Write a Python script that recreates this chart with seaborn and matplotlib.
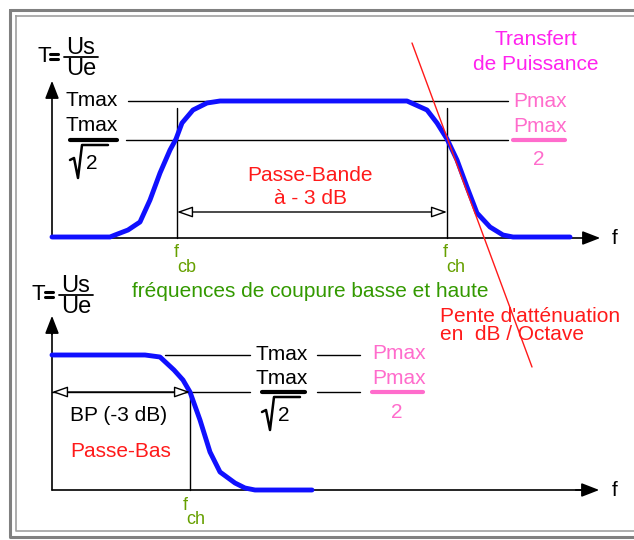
import numpy as np
import pandas as pd
import seaborn as sns
import matplotlib.pyplot as plt

# Kurven (Pixelkoordinaten des Schemas)
bande_x = [52, 110, 115, 128, 140, 150, 160, 170, 176, 182, 193, 207, 220,
           407, 427, 437, 447, 457, 467, 477, 490, 503, 513, 570]
bande_y = [237, 237, 235, 230, 222, 200, 173, 150, 139, 123, 110, 103, 101,
           101, 110, 123, 139, 160, 187, 213, 227, 235, 237, 237]
bas_x = [52, 145, 160, 174, 183, 190, 200, 210, 220, 235, 245, 255, 312]
bas_y = [355, 355, 357, 370, 380, 392, 420, 452, 472, 483, 488, 490, 490]

# Referenzpegel
y_tmax_haut, y_tmax2_haut = 101, 140
y_tmax_bas, y_tmax2_bas = 355, 392
x_fcb, x_fch, x_fch_bas = 177, 447, 190

# Pente (rote Gerade)
pente_x = [412, 532]
pente_y = [43, 367]

C_VERT = "#339900"
C_OLIVE = "#66a000"
C_ROUGE = "#ff1a1a"
C_MAG = "#ff22ee"
C_ROSE = "#ff6ccc"
C_BLEU = "#1010ff"
FONT = ["Liberation Sans", "DejaVu Sans"]

sns.set_theme(style="white")
plt.rcParams["font.family"] = FONT

fig = plt.figure(figsize=(6.34, 5.40), dpi=100)
ax = fig.add_axes([0, 0, 1, 1])

k = "black"

# Kurven mit seaborn
df_bande = pd.DataFrame({"f": bande_x, "T": bande_y})
df_bas = pd.DataFrame({"f": bas_x, "T": bas_y})
sns.lineplot(data=df_bande, x="f", y="T", ax=ax, color=C_BLEU, lw=3.5, sort=False, zorder=3)
sns.lineplot(data=df_bas, x="f", y="T", ax=ax, color=C_BLEU, lw=3.5, sort=False, zorder=3)
ax.set_xlim(0, 634)
ax.set_ylim(540, 0)
ax.axis("off")

# Rahmen (aussen dunkel, innen hell)
for off, bot, c, lw in [(10, 537, "#808080", 2.2), (16, 531, "#a0a0a0", 1.2)]:
    ax.plot([off, 660, 660, off, off], [off, off, bot, bot, off], color=c, lw=lw)

# Achsen oben
ax.plot([52, 52], [238, 95], color=k, lw=1.2)
ax.plot([52, 590], [238, 238], color=k, lw=1.2)
# Achsen unten
ax.plot([52, 52], [490, 330], color=k, lw=1.2)
ax.plot([52, 585], [490, 490], color=k, lw=1.2)

arr = dict(arrowstyle="-|>,head_length=0.9,head_width=0.35", color=k, lw=1.2)
ax.annotate("", xy=(603, 238), xytext=(580, 238), arrowprops=arr)
ax.annotate("", xy=(602, 490), xytext=(573, 490), arrowprops=arr)
ax.annotate("", xy=(52, 78), xytext=(52, 100), arrowprops=arr)
ax.annotate("", xy=(52, 313), xytext=(52, 337), arrowprops=arr)

# Pegellinien oben
ax.plot([128, 508], [y_tmax_haut] * 2, color=k, lw=1)
ax.plot([126, 508], [y_tmax2_haut] * 2, color=k, lw=1)
ax.plot([x_fcb, x_fcb], [108, 238], color=k, lw=1)
ax.plot([x_fch, x_fch], [108, 238], color=k, lw=1)
# Pegellinien unten
ax.plot([165, 250], [y_tmax_bas] * 2, color=k, lw=1)
ax.plot([317, 360], [y_tmax_bas] * 2, color=k, lw=1)
ax.plot([52, 250], [y_tmax2_bas] * 2, color=k, lw=1)
ax.plot([317, 360], [y_tmax2_bas] * 2, color=k, lw=1)
ax.plot([x_fch_bas, x_fch_bas], [y_tmax2_bas, 490], color=k, lw=1)

hollow = dict(arrowstyle="<|-|>,head_length=0.8,head_width=0.28",
              facecolor="white", edgecolor=k, lw=1, shrinkA=0, shrinkB=0)
ax.annotate("", xy=(x_fcb, 212), xytext=(x_fch, 212), arrowprops=hollow)
ax.annotate("", xy=(52, y_tmax2_bas), xytext=(x_fch_bas, y_tmax2_bas), arrowprops=hollow)

# Pente
ax.plot(pente_x, pente_y, color=C_ROUGE, lw=1, zorder=4)


def txt(x, y, s, c=k, size=15, ha="left", va="baseline", **kw):
    ax.text(x, y, s, color=c, fontsize=size, ha=ha, va=va, **kw)


def t_egal(x, y):
    # y = Hoehe des Bruchstrichs
    txt(x, y + 5, "T", size=16)
    ax.plot([x + 13, x + 21], [y - 3, y - 3], color=k, lw=2.2)
    ax.plot([x + 13, x + 21], [y + 2, y + 2], color=k, lw=2.2)
    txt(x + 44, y - 3, "Us", size=17, ha="center")
    ax.plot([x + 27, x + 61], [y, y], color=k, lw=1.3)
    txt(x + 44, y + 18, "Ue", size=17, ha="center")


def racine(x, y):
    # y = Hoehe des Wurzelstrichs
    ax.plot([x, x + 4, x + 8, x + 12, x + 38], [y + 15, y + 13, y + 33, y, y],
            color=k, lw=1.8)
    txt(x + 16, y + 24, "2", size=15)


# Texte oben
t_egal(37, 57)
txt(65, 106, "Tmax")
txt(65, 131, "Tmax")
ax.plot([70, 117], [y_tmax2_haut, y_tmax2_haut], color=k, lw=3)
racine(70, 145)

txt(310, 181, "Passe-Bande", c=C_ROUGE, ha="center")
txt(310, 204, "à - 3 dB", c=C_ROUGE, ha="center")
txt(536, 45, "Transfert", c=C_MAG, ha="center")
txt(536, 70, "de Puissance", c=C_MAG, ha="center")
txt(513, 107, "Pmax", c=C_ROSE)
txt(513, 132, "Pmax", c=C_ROSE)
ax.plot([513, 565], [y_tmax2_haut, y_tmax2_haut], color=C_ROSE, lw=3)
txt(539, 165, "2", c=C_ROSE, ha="center")

txt(174, 257, "f", c=C_OLIVE, size=13)
txt(177, 272, "cb", c=C_OLIVE, size=13)
txt(443, 257, "f", c=C_OLIVE, size=13)
txt(446, 272, "ch", c=C_OLIVE, size=13)
txt(612, 244, "f")
txt(310, 297, "fréquences de coupure basse et haute", c=C_VERT, ha="center")
txt(440, 322, "Pente d'atténuation", c=C_ROUGE)
txt(440, 340, "en  dB / Octave", c=C_ROUGE)

# Texte unten
t_egal(32, 295)
txt(255, 360, "Tmax")
txt(255, 384, "Tmax")
ax.plot([262, 305], [y_tmax2_bas, y_tmax2_bas], color=k, lw=3)
racine(262, 397)
txt(372, 359, "Pmax", c=C_ROSE)
txt(372, 384, "Pmax", c=C_ROSE)
ax.plot([372, 423], [y_tmax2_bas, y_tmax2_bas], color=C_ROSE, lw=3)
txt(397, 418, "2", c=C_ROSE, ha="center")
txt(70, 421, "BP (-3 dB)")
txt(70, 457, "Passe-Bas", c=C_ROUGE)
txt(183, 510, "f", c=C_OLIVE, size=13)
txt(186, 524, "ch", c=C_OLIVE, size=13)
txt(612, 496, "f")

fig.savefig("out.png", dpi=100)
